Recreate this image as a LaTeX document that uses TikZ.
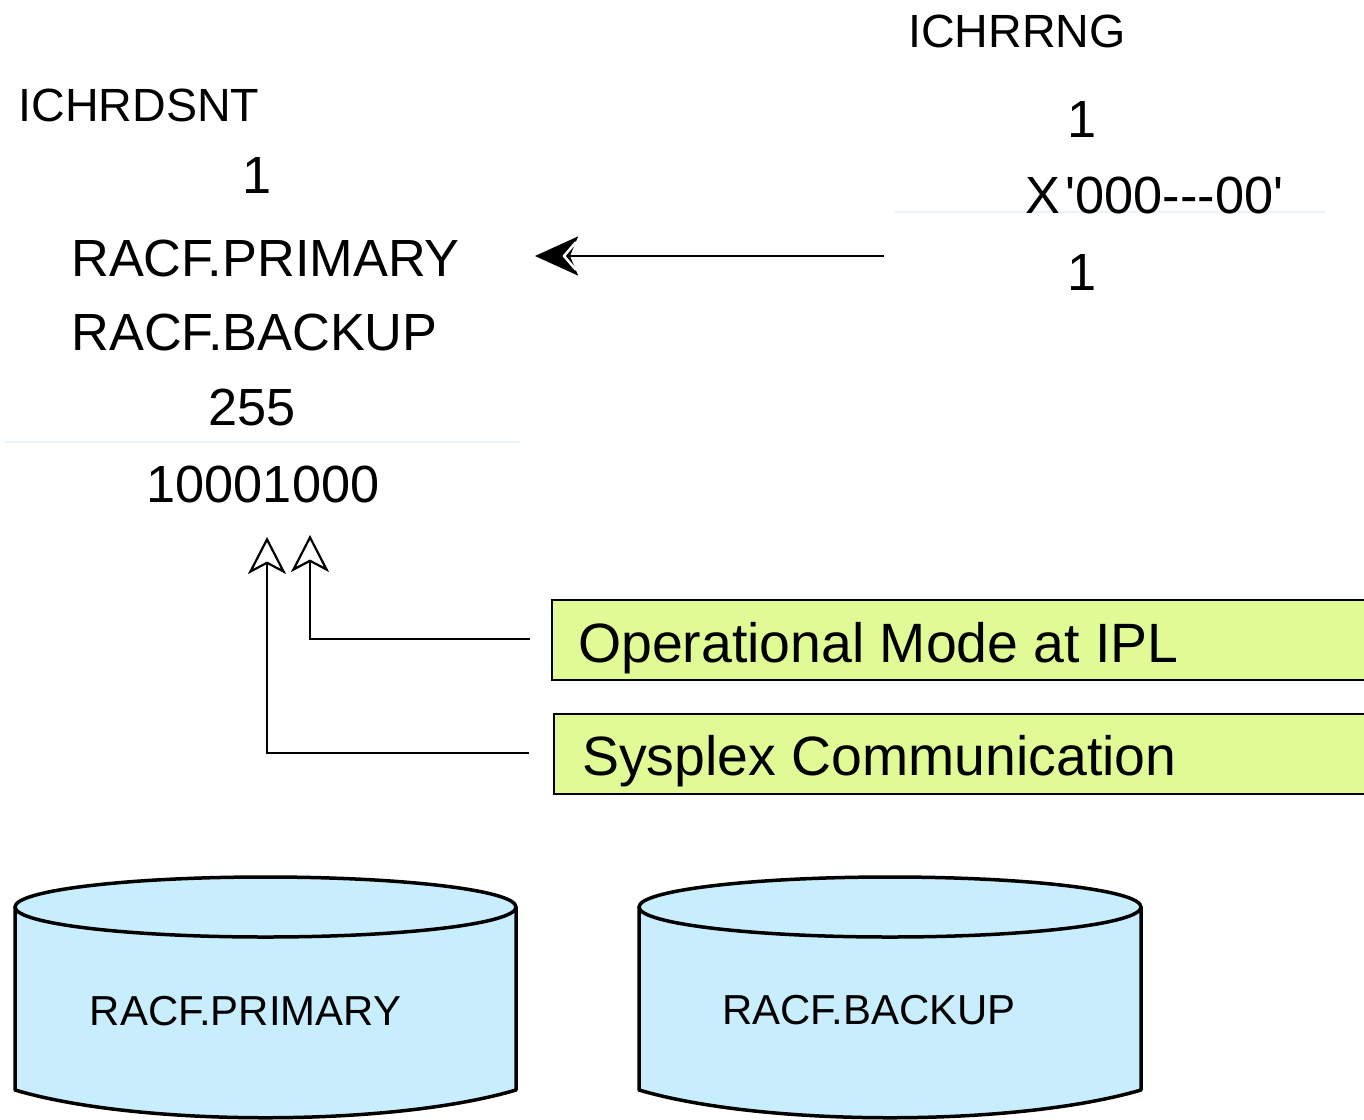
\documentclass[tikz,border=0pt]{standalone}
\usepackage{fontspec}
\setmainfont{Liberation Sans}
\usetikzlibrary{arrows.meta}
\definecolor{boxgreen}{RGB}{224,250,150}
\definecolor{cylblue}{RGB}{200,238,254}
\definecolor{faintline}{RGB}{232,243,250}
\begin{document}
\begin{tikzpicture}[x=1pt,y=-1pt,
  lbl/.style={inner sep=0pt, anchor=base},
  lblw/.style={inner sep=0pt, anchor=base west},
  fsmall/.style={font=\fontsize{46.6}{55}\selectfont},
  fmid/.style={font=\fontsize{52.3}{62}\selectfont},
  fbig/.style={font=\fontsize{55.4}{66}\selectfont},
  fcyl/.style={font=\fontsize{41.9}{50}\selectfont},
  ybox/.style={draw=black, line width=2pt, fill=boxgreen, minimum width=820pt, minimum height=80pt, anchor=north west, inner sep=0pt},
  conn/.style={draw=black, line width=2pt},
  openup/.style={-{Stealth[length=37pt,width=38pt,inset=10pt,fill=white,line width=2.2pt]}},
  cylbody/.style={fill=cylblue, draw=black, line width=3.5pt, line join=round},
  faint/.style={draw=faintline, line width=1.5pt}
]
\useasboundingbox (0,0) rectangle (1364,1119);
\clip (0,0) rectangle (1364,1119);

% faint separators (behind the text)
\draw[faint] (5,442) -- (520,442);
\draw[faint] (895,212) -- (1325,212);

% left table
\node[lbl,fsmall] (dsnt) at (139,121) {ICHRDSNT};
\node[lbl,fmid] (dsntone) at (257,193) {1};
\node[lbl,fmid] (dsntprim) at (265.5,276) {RACF.PRIMARY};
\node[lbl,fmid] (dsntback) at (254.5,350) {RACF.BACKUP};
\node[lbl,fmid] (dsntnum) at (252,425) {255};
\node[lbl,fmid] (dsntflags) at (263,502) {10001000};

% right table
\node[lbl,fsmall] (rng) at (1017,47) {ICHRRNG};
\node[lbl,fmid] (rngone) at (1082,137) {1};
\node[lbl,fmid] (rngkey) at (1154.5,213) {X\hspace{5pt}\textquotesingle000\mbox{-}\mbox{-}\mbox{-}00\textquotesingle};
\node[lbl,fmid] (rngtwo) at (1082,290) {1};

% main arrow
\coordinate (rngsrc) at (884,256);
\coordinate (dsntdst) at (535,256);
\draw[conn, -{Stealth[length=43pt,width=39pt,inset=8pt]}] (rngsrc) -- (dsntdst);
\draw[white, line width=2.5pt, line join=miter] (576,242) -- (564,256) -- (576,270);

% boxes
\node[ybox] (op) at (551,599) {};
\node[lblw,fbig] (optext) at (578,662) {Operational Mode at IPL};
\node[ybox] (sys) at (553,713) {};
\node[lblw,fbig] (systext) at (582,775) {Sysplex Communication};

\coordinate (tipR) at (310,535);
\coordinate (tipL) at (267,537);
\draw[conn, openup] ([xshift=-21pt,yshift=1pt]op.west) -| (tipR);
\draw[conn, openup] ([xshift=-24pt,yshift=1.5pt]sys.west) -| (tipL);

% cylinders
\path[cylbody] (15,907) -- (15,1090) .. controls (140,1127) and (391,1127) .. (516,1090) -- (516,907) -- cycle;
\path[cylbody] (265.5,907) ellipse [x radius=250.5pt, y radius=30pt];
\node[lbl,fcyl] (cylprim) at (245.5,1025) {RACF.PRIMARY};

\path[cylbody] (639,907) -- (639,1090) .. controls (765,1127) and (1015,1127) .. (1141,1090) -- (1141,907) -- cycle;
\path[cylbody] (890,907) ellipse [x radius=251pt, y radius=30pt];
\node[lbl,fcyl] (cylback) at (869,1024) {RACF.BACKUP};
\end{tikzpicture}
\end{document}
